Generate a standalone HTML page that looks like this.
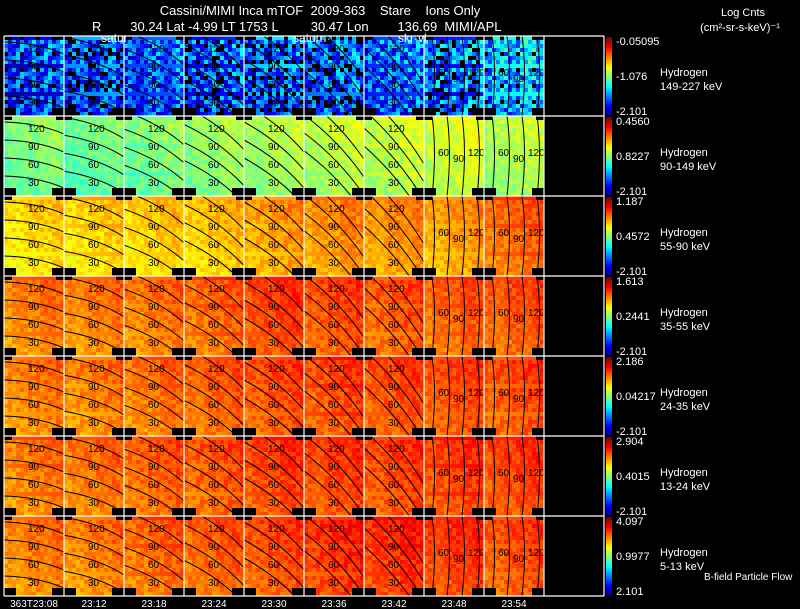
<!DOCTYPE html>
<html><head><meta charset="utf-8"><style>
body{margin:0;background:#000;width:800px;height:609px;overflow:hidden}
svg{display:block}
text{font-family:"Liberation Sans",sans-serif;fill:#fff;white-space:pre}
</style></head><body>
<svg id="chart" width="800" height="609"></svg>
<script>
const timeLabels=["363T23:08","23:12","23:18","23:24","23:30","23:36","23:42","23:48","23:54"];
const rowLabels=["149-227 keV","90-149 keV","55-90 keV","35-55 keV","24-35 keV","13-24 keV","5-13 keV"];
const cbMax=["-0.05095","0.4560","1.187","1.613","2.186","2.904","4.097"];
const cbMid=["-1.076","0.8227","0.4572","0.2441","0.04217","0.4015","0.9977"];
const cbMin=["-2.101","-2.101","-2.101","-2.101","-2.101","-2.101","2.101"];
// panel mean level (0..1 colour scale), row x column
const level=[
[0.20,0.19,0.20,0.21,0.20,0.22,0.22,0.26,0.30],
[0.50,0.48,0.50,0.52,0.54,0.56,0.56,0.58,0.55],
[0.66,0.66,0.67,0.68,0.72,0.73,0.73,0.72,0.77],
[0.75,0.75,0.76,0.77,0.81,0.80,0.79,0.78,0.79],
[0.75,0.75,0.76,0.78,0.80,0.80,0.80,0.80,0.80],
[0.75,0.76,0.78,0.79,0.81,0.81,0.81,0.81,0.81],
[0.75,0.75,0.77,0.78,0.80,0.83,0.83,0.82,0.80]];
const contourSlope=[0.25,0.45,0.7,0.9,1.0,1.3,1.5,4,8];

const NS="http://www.w3.org/2000/svg";
const svg=document.getElementById('chart');
function el(t,a,p){const e=document.createElementNS(NS,t);for(const k in a)e.setAttribute(k,a[k]);(p||svg).appendChild(e);return e;}
function jet(t){t=Math.max(0,Math.min(1,t));
 const r=Math.max(0,Math.min(1,1.5-Math.abs(4*t-3))),g=Math.max(0,Math.min(1,1.5-Math.abs(4*t-2))),b=Math.max(0,Math.min(1,1.5-Math.abs(4*t-1)));
 return `rgb(${Math.round(r*255)},${Math.round(g*255)},${Math.round(b*255)})`;}
const X0=4,PW=60,Y0=36,RH=80,NC=9,NR=7,GR=604;
const xs=c=>X0+c*PW, ys=r=>Y0+r*RH;

let t=el('text',{x:320,y:15,'font-size':13,'text-anchor':'middle'});t.textContent="Cassini/MIMI Inca mTOF  2009-363    Stare    Ions Only";

t=el('text',{x:92,y:31,'font-size':13});t.textContent="R        30.24 Lat -4.99 LT 1753 L         30.47 Lon        136.69  MIMI/APL";

t=el('text',{x:743,y:16,'font-size':11,'text-anchor':'middle'});t.textContent="Log Cnts";

t=el('text',{x:740,y:31,'font-size':11,'text-anchor':'middle'});t.textContent="(cm²-sr-s-keV)⁻¹";


for(let r=0;r<NR;r++){
 for(let c=0;c<NC;c++){
  const g=el('g',{});
  
  const L=level[r][c];
  const nx=15,ny=20,cw=PW/nx,ch=RH/ny;
  for(let i=0;i<nx;i++)for(let j=0;j<ny;j++){
   const corner=(j>=ny-2&&(i<3||i>nx-4))||(j==0&&(i<2||i>nx-3));
   const h=(i*i*7+j*j*13+i*j*3+c*5+r*11)%7;
   const v=L+0.05*((i/nx)-(j/ny))+(r==0?(h-3)*0.045:(h-3)*0.012);
   const blk=r==0&&((i*i*5+j*j*3+i*j+c*7)%8==0);
   el('rect',{x:xs(c)+i*cw,y:ys(r)+j*ch,width:cw+0.3,height:ch+0.3,fill:(corner||blk)?'#000':jet(v)},g);
  }
  const cp=el('clipPath',{id:'cp'+r+'_'+c});el('rect',{x:xs(c),y:ys(r),width:PW,height:RH},cp);
  const s=contourSlope[c],lbl=["120","90","60","30"];
  for(let k=0;k<4;k++){
   let x1,y1,x2,y2,lx,ly;
   if(s<3){const cy=ys(r)+12+k*18;x1=xs(c);y1=cy-30*s*0.8;x2=xs(c)+PW;y2=cy+30*s*0.8;lx=xs(c)+24;ly=cy+4;}
   else{const px=xs(c)+PW-10-k*15;x1=px+3;y1=ys(r);x2=px+3;y2=ys(r)+RH;lx=px-6;ly=ys(r)+40+(k%2)*6;}
   el('path',{d:`M${x1},${y1} Q${(x1+x2)/2+5},${(y1+y2)/2-5} ${x2},${y2}`,stroke:'#000','stroke-width':1,fill:'none','clip-path':'url(#cp'+r+'_'+c+')'},g);
   if(s<3||k<3){const tl=el('text',{x:lx,y:ly,'font-size':10,style:'fill:#000'},g);tl.textContent=lbl[k];}
  }
 }
 const cb=el('g',{});
 for(let k=0;k<40;k++)el('rect',{x:606,y:ys(r)+1+k*(RH-2)/40,width:6,height:(RH-2)/40+0.5,fill:jet(1-k/40)},cb);
 t=el('text',{x:616,y:ys(r)+9,'font-size':11});t.textContent=cbMax[r];
 
 t=el('text',{x:616,y:ys(r)+44,'font-size':11});t.textContent=cbMid[r];
 
 t=el('text',{x:616,y:ys(r)+RH-1,'font-size':11});t.textContent=cbMin[r];
 
 t=el('text',{x:660,y:ys(r)+40,'font-size':11});t.textContent="Hydrogen";
 
 t=el('text',{x:660,y:ys(r)+54,'font-size':11});t.textContent=rowLabels[r];
 
}
for(let r=0;r<=NR;r++)el('line',{x1:X0,x2:GR,y1:ys(r),y2:ys(r),stroke:'#fff','stroke-width':1.2});
for(let c=0;c<=NC;c++)el('line',{x1:xs(c),x2:xs(c),y1:Y0,y2:ys(NR),stroke:'#fff','stroke-width':1.2});
el('line',{x1:GR,x2:GR,y1:Y0,y2:ys(NR),stroke:'#fff','stroke-width':1.2});
for(let c=0;c<NC;c++){
 t=el('text',{x:xs(c)+30,y:607,'font-size':10,'text-anchor':'middle'});t.textContent=timeLabels[c];
 
}
t=el('text',{x:704,y:580,'font-size':10});t.textContent="B-field Particle Flow";

[["satur",101],["saturn",293],["skr-vl",398]].forEach((a,i)=>{t=el('text',{x:a[1],y:42,'font-size':12});t.textContent=a[0];
 });
</script>
</body></html>
